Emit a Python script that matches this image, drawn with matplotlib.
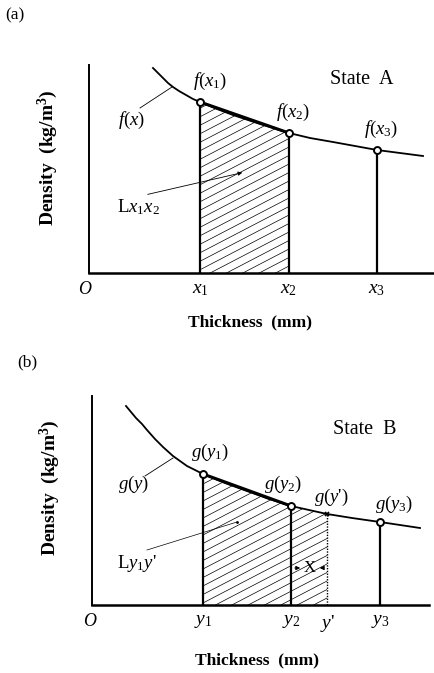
import numpy as np
import matplotlib
matplotlib.use("Agg")
import matplotlib.pyplot as plt
from matplotlib.patches import Polygon

plt.rcParams["font.family"] = "Liberation Serif"
plt.rcParams["mathtext.fontset"] = "custom"
plt.rcParams["mathtext.rm"] = "Liberation Serif"
plt.rcParams["mathtext.it"] = "Liberation Serif:italic"
plt.rcParams["mathtext.bf"] = "Liberation Serif:bold"

# state A curve f(x) (arbitrary units)
curve_a_x = [64, 68, 73, 79, 84, 90, 97, 104, 111, 128, 144, 171, 200, 221, 244, 266, 288, 311, 334]
curve_a_y = [205, 201, 196, 190, 186, 182, 178, 174, 171, 164, 158, 149, 140, 135, 131, 127, 123, 120, 117]
pts_a_x = [111, 200, 288]
pts_a_y = [171, 140, 123]
pts_a_lbl = [r"$x_1$", r"$x_2$", r"$x_3$"]
pts_a_f = [r"$f(x_1)$", r"$f(x_2)$", r"$f(x_3)$"]

# state B curve g(y)
curve_b_x = [34, 39, 44, 50, 55, 63, 71, 81, 88, 95, 103, 111, 133, 155, 177, 199, 235, 260, 288, 328]
curve_b_y = [199, 193, 187, 181, 175, 166, 158, 149, 144, 139, 135, 131, 122, 114, 106, 99, 91, 87, 83, 77]
pts_b_x = [111, 199, 235, 288]
pts_b_y = [131, 99, 91, 83]
pts_b_lbl = [r"$y_1$", r"$y_2$", r"$y$'", r"$y_3$"]
pts_b_g = [r"$g(y_1)$", r"$g(y_2)$", r"$g(y$'$)$", r"$g(y_3)$"]

W, H = 435, 673
fig = plt.figure(figsize=(W / 100, H / 100), dpi=100)


def px_axes(x0, y0, x1, y1):
    return fig.add_axes([x0 / W, 1 - y1 / H, (x1 - x0) / W, (y1 - y0) / H])


def setup(ax, xmax, ymax):
    ax.set_xlim(0, xmax)
    ax.set_ylim(0, ymax)
    for s in ["top", "right"]:
        ax.spines[s].set_visible(False)
    ax.spines["left"].set_linewidth(1.4)
    ax.spines["bottom"].set_linewidth(1.8)
    ax.set_yticks([])
    ax.tick_params(axis="x", length=0, pad=6, labelsize=14)
    ax.patch.set_alpha(0)


def hatch(ax, verts, slope=0.52, step=8.5):
    poly = Polygon(verts, closed=True, facecolor="none", edgecolor="none")
    ax.add_patch(poly)
    xs = [v[0] for v in verts]
    lo = -slope * max(xs) - 10
    for c in np.arange(lo, 260, step):
        ln, = ax.plot([min(xs), max(xs)], [slope * min(xs) + c, slope * max(xs) + c],
                      color="black", lw=0.5)
        ln.set_clip_path(poly)


# ---------- (a) ----------
ax = px_axes(89, 65, 436, 273)
setup(ax, 347, 208)
ax.plot(curve_a_x, curve_a_y, color="black", lw=1.3)
hatch(ax, [(pts_a_x[0], 0), (pts_a_x[0], pts_a_y[0]), (pts_a_x[1], pts_a_y[1]), (pts_a_x[1], 0)])
ax.plot(pts_a_x[:2], pts_a_y[:2], color="black", lw=2.2)
for xv, yv in zip(pts_a_x, pts_a_y):
    ax.plot([xv, xv], [0, yv], color="black", lw=1.6)
ax.plot(pts_a_x, pts_a_y, "o", ms=5, mfc="white", mec="black", mew=1.4)
ax.set_xticks(pts_a_x, pts_a_lbl)
for xv, yv, t in zip(pts_a_x, pts_a_y, pts_a_f):
    ax.text(xv + (10 if xv == pts_a_x[0] else 4), yv + 21, t, ha="center", va="center", fontsize=13.5)
ax.text(-4, -17, r"$O$", ha="center", va="center", fontsize=13, clip_on=False)
ax.text(273, 193, "State  A", ha="center", va="center", fontsize=14.5)
ax.text(43, 153, r"$f(x)$", ha="center", va="center", fontsize=13.5)
ax.plot([51, 83], [165, 186], color="black", lw=0.6)
ax.text(49, 66, r"L$x_1x_2$", ha="center", va="center", fontsize=13.5)
ax.annotate("", xy=(156, 101), xytext=(56, 78),
            arrowprops=dict(arrowstyle="-|>", lw=0.6, color="black", mutation_scale=6))

fig.text(15 / W, 1 - 15 / H, "(a)", ha="center", va="center", fontsize=12.5)
fig.text(250 / W, 1 - 322 / H, "Thickness  (mm)", ha="center", va="center",
         fontsize=12.5, fontweight="bold")
fig.text(48 / W, 1 - 158 / H, r"Density  (kg/m$^\mathbf{3}$)", ha="center", va="center",
         fontsize=14, fontweight="bold", rotation=90)

# ---------- (b) ----------
bx = px_axes(92, 396, 429, 605)
setup(bx, 337, 209)
bx.plot(curve_b_x, curve_b_y, color="black", lw=1.3)
hatch(bx, [(pts_b_x[0], 0), (pts_b_x[0], pts_b_y[0]), (pts_b_x[1], pts_b_y[1]),
           (pts_b_x[2], pts_b_y[2]), (pts_b_x[2], 0)])
bx.plot(pts_b_x[:2], pts_b_y[:2], color="black", lw=2.2)
for i, (xv, yv) in enumerate(zip(pts_b_x, pts_b_y)):
    if i == 2:
        bx.plot([xv, xv], [0, yv], color="black", lw=1.0, ls=(0, (1, 1)))
    else:
        bx.plot([xv, xv], [0, yv], color="black", lw=1.6)
sel = [0, 1, 3]
bx.plot([pts_b_x[i] for i in sel], [pts_b_y[i] for i in sel], "o", ms=5,
        mfc="white", mec="black", mew=1.4)
bx.plot(pts_b_x[2], pts_b_y[2], "x", ms=3.5, mec="black", mew=1.2)
bx.set_xticks(pts_b_x, pts_b_lbl)
offs = [(7, 22), (-8, 22), (4, 17), (14, 18)]
for (xv, yv, t), (dx, dy) in zip(zip(pts_b_x, pts_b_y, pts_b_g), offs):
    bx.text(xv + dx, yv + dy, t, ha="center", va="center", fontsize=13.5)
bx.text(-2, -17, r"$O$", ha="center", va="center", fontsize=13, clip_on=False)
bx.text(273, 175, "State  B", ha="center", va="center", fontsize=14.5)
bx.text(42, 121, r"$g(y)$", ha="center", va="center", fontsize=13.5)
bx.plot([53, 81], [129, 147], color="black", lw=0.6)
bx.text(45, 42, r"L$y_1y$'", ha="center", va="center", fontsize=13.5)
bx.plot([55, 145], [55, 83], color="black", lw=0.5)
bx.plot(145, 83, ".", color="black", ms=2)
bx.text(218, 37, "X", ha="center", va="center", fontsize=12)
bx.annotate("", xy=(211, 37), xytext=(pts_b_x[1] + 1, 37),
            arrowprops=dict(arrowstyle="-|>", lw=0.7, color="black", mutation_scale=6))
bx.annotate("", xy=(225, 37), xytext=(pts_b_x[2] - 1, 37),
            arrowprops=dict(arrowstyle="-|>", lw=0.7, color="black", mutation_scale=6))

fig.text(27 / W, 1 - 362 / H, "(b)", ha="center", va="center", fontsize=12.5)
fig.text(257 / W, 1 - 660 / H, "Thickness  (mm)", ha="center", va="center",
         fontsize=12.5, fontweight="bold")
fig.text(50 / W, 1 - 488 / H, r"Density  (kg/m$^\mathbf{3}$)", ha="center", va="center",
         fontsize=14, fontweight="bold", rotation=90)

fig.savefig("out.png", dpi=100)
